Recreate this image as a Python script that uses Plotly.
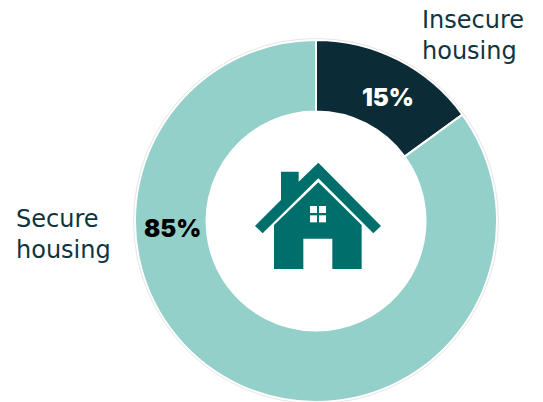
import plotly.graph_objects as go

W, H = 543, 402
categories = ["Insecure housing", "Secure housing"]
values = [15, 85]
colors = ["#0B2C36", "#93D0C9"]
pct_labels = ["15%", "85%"]
cx, cy, R = 316, 221, 181

def X(p): return p / W
def Y(p): return 1 - p / H
def zoom_path(points):
    parts = []
    for i, (zx, zy) in enumerate(points):
        parts.append(f"{'M' if i == 0 else 'L'}{X(240 + zx / 3):.5f},{Y(150 + zy / 3):.5f}")
    return " ".join(parts) + " Z"

fig = go.Figure(go.Pie(
    labels=categories, values=values, hole=0.605, sort=False, direction="clockwise",
    rotation=0, marker=dict(colors=colors, line=dict(color="white", width=2)),
    textinfo="none", hoverinfo="label+percent", showlegend=False,
    domain=dict(x=[X(cx - R), X(cx + R)], y=[Y(cy + R), Y(cy - R)]),
))

teal = "#006F6C"
roof = [(235, 38), (423, 228), (400, 250), (235, 85), (68, 250), (45, 228), (123, 150),
        (123, 65), (176, 65), (176, 95)]
body = [(235, 97), (365, 225), (365, 357), (277, 357), (277, 266), (190, 266), (190, 357),
        (102, 357), (102, 225)]
panes = [(210, 168), (237, 168), (210, 196), (237, 196)]
shapes = [dict(type="path", xref="paper", yref="paper", path=zoom_path(p), fillcolor=teal,
               line=dict(width=0)) for p in (roof, body)]
for zx, zy in panes:
    shapes.append(dict(type="path", xref="paper", yref="paper",
                       path=zoom_path([(zx, zy), (zx + 21, zy), (zx + 21, zy + 21), (zx, zy + 21)]),
                       fillcolor="white", line=dict(width=0)))
r = R + 1.5
shapes.append(dict(type="circle", xref="paper", yref="paper",
                   x0=X(cx - r), x1=X(cx + r), y0=Y(cy + r), y1=Y(cy - r),
                   line=dict(color="#E6E6E6", width=1), fillcolor="rgba(0,0,0,0)"))

def note(text, px, py, size, color, weight=400, anchor="left", family="Inter, Lato, sans-serif"):
    return dict(text=text, xref="paper", yref="paper", x=X(px), y=Y(py),
                xanchor=anchor, yanchor="middle", showarrow=False, align="left", borderpad=0,
                font=dict(family=family, size=size, color=color, weight=weight))

LABEL_FONT = "DejaVu Sans, sans-serif"
annotations = [
    note("Insecure<br>housing", 421, 35, 24, "#0F3540", 400, family=LABEL_FONT),
    note("Secure<br>housing", 15, 235, 24, "#0F3540", 400, family=LABEL_FONT),
    note(pct_labels[0], 388, 97, 24, "white", 900, "center"),
    note(pct_labels[1], 172, 228, 24, "black", 900, "center"),
]

fig.update_layout(width=W, height=H, margin=dict(l=0, r=0, t=0, b=0), paper_bgcolor="white",
                  shapes=shapes, annotations=annotations)
fig.write_html("out.html", config=dict(displayModeBar=False),
               post_script="document.body.style.margin='0';document.body.style.overflow='hidden';")
